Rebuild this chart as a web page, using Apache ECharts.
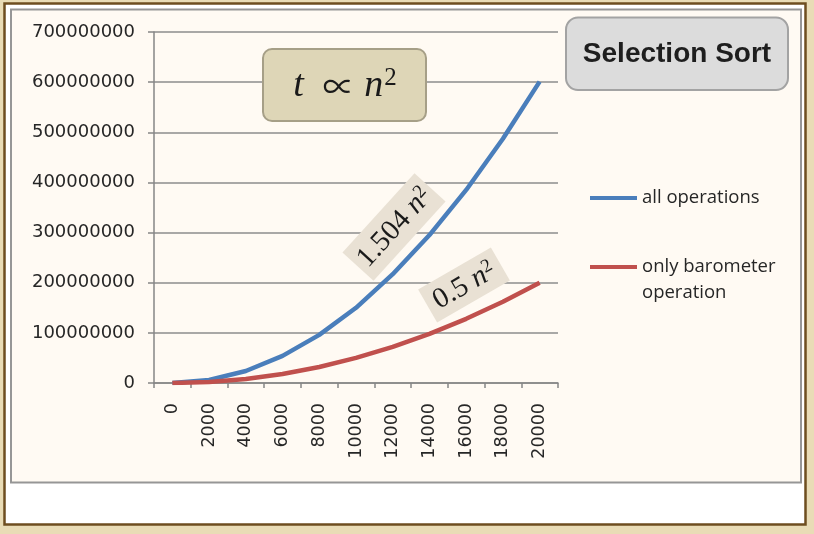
<!DOCTYPE html>
<html>
<head>
<meta charset="utf-8">
<script src="https://cdn.jsdelivr.net/npm/echarts@6/dist/echarts.min.js"></script>
<style>
  html, body { margin: 0; padding: 0; background: #e9dcb6; }
  #chart { width: 814px; height: 534px; }
</style>
</head>
<body>
<div id="chart"></div>
<script>
// n values on the x axis
var categories = ['0', '2000', '4000', '6000', '8000', '10000', '12000', '14000', '16000', '18000', '20000'];
var allOps = [0, 6000000, 24000000, 54000000, 96000000, 150000000, 217000000, 295000000, 385000000, 487000000, 601000000];
var barometerOps = [0, 2000000, 8000000, 18000000, 32000000, 50000000, 72000000, 98000000, 128000000, 162000000, 200000000];
var seriesNames = ['all operations', 'only barometer operation'];
var yMax = 700000000;
var yStep = 100000000;

var chart = echarts.init(document.getElementById('chart'));

var serif = '"Liberation Serif", "DejaVu Serif", serif';

option = {
  backgroundColor: '#e9dcb6',
  animation: false,
  grid: {
    left: 154,
    right: 256,
    top: 32,
    bottom: 151,
    containLabel: false
  },
  legend: [
    {
      data: [seriesNames[0]],
      left: 590,
      top: 187,
      padding: 0,
      itemWidth: 47,
      itemHeight: 4,
      icon: 'rect',
      textStyle: { fontFamily: '"Open Sans", sans-serif', fontSize: 18.5, color: '#262626', lineHeight: 22 }
    },
    {
      data: [seriesNames[1]],
      left: 590,
      top: 228,
      padding: 0,
      itemWidth: 47,
      itemHeight: 4,
      icon: 'rect',
      // blank first line so the icon sits on "only barometer"
      formatter: function(name) { return ' \nonly barometer\noperation' },
      textStyle: { fontFamily: '"Open Sans", sans-serif', fontSize: 18.5, color: '#262626', lineHeight: 26 }
    }
  ],
  xAxis: {
    type: 'category',
    data: categories,
    boundaryGap: true,
    axisLine: { lineStyle: { color: '#868686', width: 1.5 } },
    axisTick: { show: true, length: 5, lineStyle: { color: '#868686', width: 1.5 } },
    axisLabel: {
      rotate: 90,
      interval: 0,
      margin: 20,
      fontFamily: '"DejaVu Sans", sans-serif',
      fontSize: 17.5,
      color: '#262626'
    },
    splitLine: { show: false }
  },
  yAxis: {
    type: 'value',
    min: 0,
    max: yMax,
    interval: yStep,
    axisLine: { show: true, lineStyle: { color: '#868686', width: 1.5 } },
    axisTick: { show: true, length: 6, lineStyle: { color: '#868686', width: 1.5 } },
    axisLabel: {
      margin: 19,
      formatter: function(v) { return String(v) },
      fontFamily: '"DejaVu Sans", sans-serif',
      fontSize: 18,
      color: '#262626'
    },
    splitLine: { show: true, lineStyle: { color: '#8c8c8c', width: 1.5 } }
  },
  series: [
    {
      name: seriesNames[0],
      type: 'line',
      data: allOps,
      symbol: 'none',
      z: 5,
      color: '#4a7ebb',
      lineStyle: { color: '#4a7ebb', width: 4.5 }
    },
    {
      name: seriesNames[1],
      type: 'line',
      data: barometerOps,
      symbol: 'none',
      z: 5,
      color: '#c0504d',
      lineStyle: { color: '#c0504d', width: 4.5 }
    }
  ],
  graphic: [
    // frame
    { type: 'rect', z: -10, shape: { x: 4.5, y: 3.5, width: 801, height: 521 },
      style: { fill: '#ffffff', stroke: '#6e4e20', lineWidth: 2.5 } },
    { type: 'rect', z: -9, shape: { x: 11, y: 9.5, width: 790, height: 473 },
      style: { fill: '#fffaf3', stroke: '#969696', lineWidth: 2 } },
    // t ∝ n^2
    { type: 'rect', z: 3, shape: { x: 263, y: 49, width: 163, height: 72, r: 9 },
      style: { fill: '#ded6b7', stroke: '#a69f87', lineWidth: 2 } },
    { type: 'text', z: 4, x: 345, y: 86,
      style: {
        text: '{i|t}{sp|  }{s|\u221D}{sp| }{i|n}{g| }{p|2}',
        align: 'center', verticalAlign: 'middle',
        textAlign: 'center', textVerticalAlign: 'middle',
        rich: {
          i: { fontFamily: serif, fontStyle: 'italic', fontSize: 38, fill: '#1a1a1a', color: '#1a1a1a', lineHeight: 40 },
          sp: { fontFamily: serif, fontSize: 38, lineHeight: 40 },
          s: { fontFamily: '"Noto Sans CJK JP", "DejaVu Serif", serif', fontSize: 32, fill: '#1a1a1a', color: '#1a1a1a', lineHeight: 40 },
          g: { fontSize: 4, lineHeight: 40 },
          p: { fontFamily: serif, fontSize: 25, fill: '#1a1a1a', color: '#1a1a1a', verticalAlign: 'top', lineHeight: 26 }
        }
      } },
    // Selection Sort
    { type: 'rect', z: 3, shape: { x: 566, y: 17.5, width: 222, height: 72.5, r: 12 },
      style: { fill: '#dcdcdc', stroke: '#a3a3a3', lineWidth: 2 } },
    { type: 'text', z: 4, x: 677, y: 54,
      style: {
        text: 'Selection Sort',
        font: 'bold 28px "Liberation Sans", sans-serif',
        fill: '#1e1e1e',
        align: 'center', verticalAlign: 'middle',
        textAlign: 'center', textVerticalAlign: 'middle'
      } },
    // 1.504 n^2
    { type: 'group', x: 394, y: 227, rotation: 47.7 * Math.PI / 180,
      children: [
        { type: 'rect', z: 3, shape: { x: -53.5, y: -21, width: 107, height: 42 }, style: { fill: '#e9e1d4' } },
        { type: 'text', z: 4, x: 0, y: 1,
          style: {
            text: '{n|1.504 }{i|n}{p|2}',
            align: 'center', verticalAlign: 'middle',
            textAlign: 'center', textVerticalAlign: 'middle',
            rich: {
              n: { fontFamily: serif, fontSize: 29, fill: '#1a1a1a', color: '#1a1a1a', lineHeight: 30 },
              i: { fontFamily: serif, fontStyle: 'italic', fontSize: 29, fill: '#1a1a1a', color: '#1a1a1a', lineHeight: 30 },
              p: { fontFamily: serif, fontSize: 19, fill: '#1a1a1a', color: '#1a1a1a', verticalAlign: 'top', lineHeight: 20 }
            }
          } }
      ] },
    // 0.5 n^2
    { type: 'group', x: 464, y: 285, rotation: 30 * Math.PI / 180,
      children: [
        { type: 'rect', z: 3, shape: { x: -42, y: -19, width: 84, height: 38 }, style: { fill: '#e9e1d4' } },
        { type: 'text', z: 4, x: 0, y: 1,
          style: {
            text: '{n|0.5 }{i|n}{p|2}',
            align: 'center', verticalAlign: 'middle',
            textAlign: 'center', textVerticalAlign: 'middle',
            rich: {
              n: { fontFamily: serif, fontSize: 29, fill: '#1a1a1a', color: '#1a1a1a', lineHeight: 30 },
              i: { fontFamily: serif, fontStyle: 'italic', fontSize: 29, fill: '#1a1a1a', color: '#1a1a1a', lineHeight: 30 },
              p: { fontFamily: serif, fontSize: 19, fill: '#1a1a1a', color: '#1a1a1a', verticalAlign: 'top', lineHeight: 20 }
            }
          } }
      ] }
  ]
};

chart.setOption(option);
</script>
</body>
</html>
